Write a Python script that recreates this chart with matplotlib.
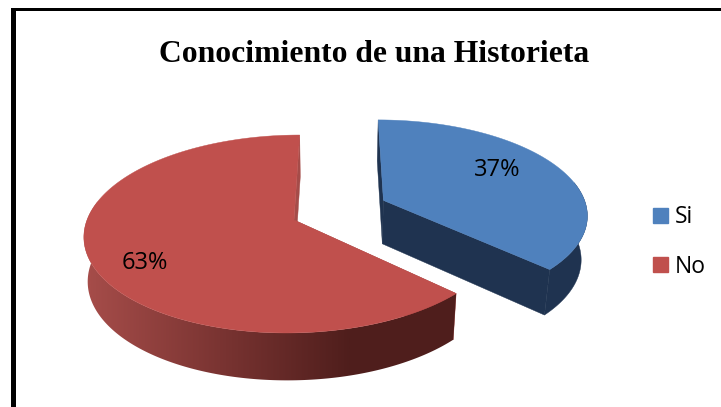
import numpy as np
import matplotlib
matplotlib.use("Agg")
import matplotlib.pyplot as plt
from matplotlib.patches import Polygon, Patch, Rectangle
from matplotlib.colors import LinearSegmentedColormap

categories = ["Si", "No"]
percents = [37, 63]
label_pos = [(497, 170), (145, 263)]
title = "Conocimiento de una Historieta"

face_colors = ["#4f81bd", "#c0504d"]
red_side = LinearSegmentedColormap.from_list("red_side", ["#a54c49", "#7a3432", "#4f1e1c"])
blue_side = "#1f3350"
red_wall = "#a54c49"

# 3D look: perspective projection of the unit disc, in image pixels
VX, CY = 340, 220          # vanishing x, y of the pie centre
A, B, K = 207, 97, 0.1414  # radii and perspective strength
U0 = -46 / 207             # pie centre sits left of the vanishing x
EXPLODE = 0.485            # pull-out of the first slice


def project(u, v):
    den = 1 + K * v
    return VX + A * (u + U0) / den, CY - B * v / den


def lower(x, y):
    # lower rim is a little narrower and sits lower
    shrink = np.where(x < VX, 0.985, 0.975)
    return VX + (x - VX) * shrink, y + 44 + (y - CY) * 0.03


fig = plt.figure(figsize=(7.21, 4.07), dpi=100)
ax = fig.add_axes([0, 0, 1, 1])
ax.axis("off")

# frame: left and top only
ax.add_patch(Rectangle((11, 8), 5, 399, color="black", lw=0, zorder=1))
ax.add_patch(Rectangle((11, 8), 710, 3, color="black", lw=0, zorder=1))

start = 0.0
for i, pct in enumerate(percents):
    end = start + pct * 3.6
    t = np.deg2rad(np.linspace(start, end, 240))
    off = np.deg2rad((start + end) / 2 - 2)
    du, dv = (EXPLODE * np.sin(off), EXPLODE * np.cos(off)) if i == 0 else (0, 0)

    ax_x, ax_y = project(du, dv)
    arc_x, arc_y = project(du + np.sin(t), dv + np.cos(t))
    low_x, low_y = lower(arc_x, arc_y)
    apex_lx, apex_ly = lower(ax_x, ax_y)

    # inner walls
    wall_col = blue_side if i == 0 else red_wall
    for j in (0, -1):
        wall = [(ax_x, ax_y), (arc_x[j], arc_y[j]), (low_x[j], low_y[j]), (apex_lx, apex_ly)]
        ax.add_patch(Polygon(wall, closed=True, fc=wall_col, ec=wall_col, lw=0.3, zorder=3))

    # outer side, front part only
    front = np.cos(t) < 0.2
    side = np.column_stack([np.r_[arc_x[front], low_x[front][::-1]],
                            np.r_[arc_y[front], low_y[front][::-1]]])
    if i == 0:
        ax.add_patch(Polygon(side, closed=True, fc=blue_side, ec=blue_side, lw=0.3, zorder=4))
    else:
        clip = Polygon(side, closed=True, transform=ax.transData)
        grad = ax.imshow(np.linspace(0, 1, 256)[None, :], cmap=red_side, aspect="auto",
                         extent=(90, 350, 407, 0), zorder=4)
        # flat ends left and right of the gradient
        left = ax.imshow([[0.0]], cmap=red_side, vmin=0, vmax=1, aspect="auto",
                         extent=(75, 90, 407, 0), zorder=4)
        dark = ax.imshow([[1.0]], cmap=red_side, vmin=0, vmax=1, aspect="auto",
                         extent=(350, 470, 407, 0), zorder=4)
        ax.add_patch(clip)
        clip.set_visible(False)
        for im in (grad, left, dark):
            im.set_clip_path(clip)

    # top face
    top = np.column_stack([np.r_[ax_x, arc_x], np.r_[ax_y, arc_y]])
    ax.add_patch(Polygon(top, closed=True, fc=face_colors[i], ec=face_colors[i], lw=0.3, zorder=5))

    ax.text(label_pos[i][0], label_pos[i][1], f"{pct}%", ha="center", va="center",
            fontsize=17, family="Open Sans", color="black", zorder=6)
    start = end

ax.set_xlim(0, 721)
ax.set_ylim(407, 0)

ax.text(374.5, 55, title, ha="center", va="center", fontsize=22.8, fontweight="bold",
        family="Liberation Serif", color="black", zorder=6)

handles = [Patch(fc=c, ec=c) for c in face_colors]
ax.legend(handles, categories, loc="center left", bbox_to_anchor=(653 / 721, 1 - 242 / 407),
          frameon=False, prop={"family": "Open Sans", "size": 16.5}, handlelength=0.655, handleheight=0.655,
          handletextpad=0.3, labelspacing=1.1, borderpad=0, borderaxespad=0)

fig.savefig("out.png", dpi=100)
